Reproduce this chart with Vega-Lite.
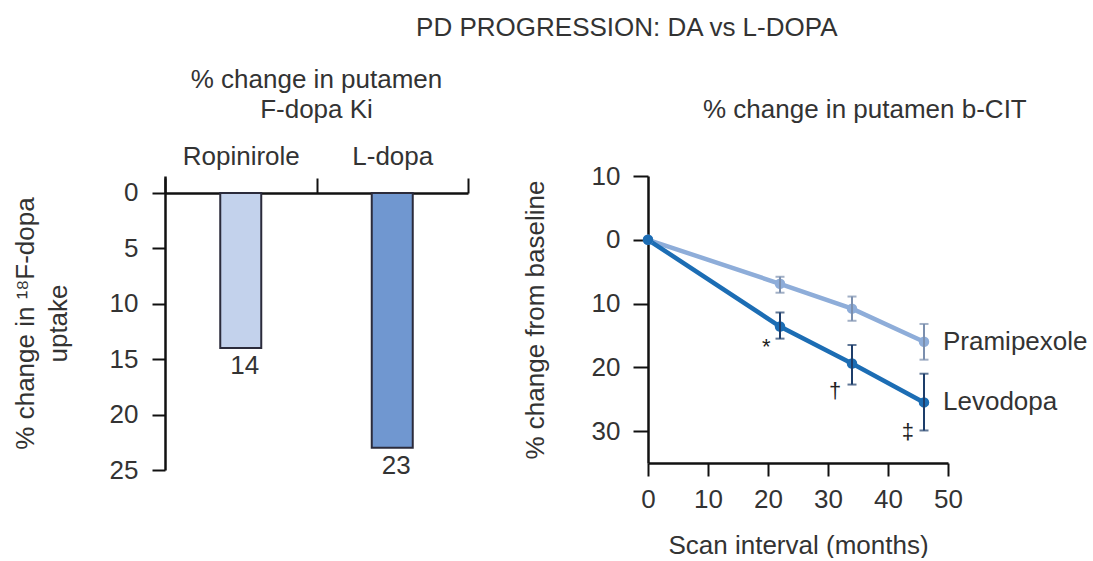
{
  "$schema": "https://vega.github.io/schema/vega-lite/v6.json",
  "background": "white",
  "padding": {"left": 12, "top": 15, "right": 5, "bottom": 0},
  "title": {"text": "PD PROGRESSION: DA vs L-DOPA", "anchor": "middle", "dx": 77, "offset": 26, "fontSize": 26, "fontWeight": "normal", "font": "Liberation Sans", "color": "#333333"},
  "config": {
    "font": "Liberation Sans",
    "view": {"stroke": null},
    "axis": {
      "grid": false,
      "labelFont": "Liberation Sans",
      "titleFont": "Liberation Sans",
      "labelFontSize": 26,
      "titleFontSize": 26,
      "titleFontWeight": "normal",
      "labelColor": "#333333",
      "titleColor": "#333333",
      "domainColor": "#111111",
      "tickColor": "#111111",
      "domainWidth": 2.5,
      "tickWidth": 2,
      "labelFlush": false
    },
    "title": {"font": "Liberation Sans", "fontSize": 26, "fontWeight": "normal", "color": "#333333"}
  },
  "bounds": "flush",
  "spacing": 180,
  "hconcat": [
    {
      "width": 303,
      "height": 294,
      "title": {"text": ["% change in putamen", "F-dopa Ki"], "anchor": "middle", "offset": 20, "lineHeight": 30},
      "data": {"values": [
        {"drug": "Ropinirole", "change": 14},
        {"drug": "L-dopa", "change": 23}
      ]},
      "encoding": {
        "x": {"field": "drug", "type": "nominal", "sort": null,
          "scale": {"paddingInner": 0, "paddingOuter": 0},
          "axis": {"orient": "top", "title": null, "labelAngle": 0, "tickBand": "extent", "tickSize": 15, "offset": -17, "labelPadding": 9}},
        "y": {"field": "change", "type": "quantitative",
          "scale": {"domain": [-1.534, 25], "reverse": true, "nice": false, "zero": false},
          "axis": {"values": [0, 5, 10, 15, 20, 25], "title": ["% change in ¹⁸F-dopa", "uptake"], "tickSize": 13, "labelPadding": 14, "titlePadding": 38, "titleLineHeight": 33}}
      },
      "layer": [
        {"mark": {"type": "bar", "size": 41, "stroke": "#2b2b3b", "strokeWidth": 2},
         "encoding": {
           "y2": {"datum": 0},
           "color": {"field": "drug", "type": "nominal", "scale": {"domain": ["Ropinirole", "L-dopa"], "range": ["#c3d2ec", "#7097d0"]}, "legend": null}}},
        {"mark": {"type": "text", "dy": 18, "dx": 4, "baseline": "middle", "fontSize": 26, "color": "#333333"},
         "encoding": {"text": {"field": "change", "type": "quantitative"}}}
      ]
    },
    {
      "width": 300,
      "height": 287,
      "title": {"text": "% change in putamen b-CIT", "anchor": "start", "frame": "group", "dx": 55, "offset": 40},
      "data": {"values": [
        {"drug": "Pramipexole", "month": 0, "change": 0, "low": 0, "high": 0},
        {"drug": "Pramipexole", "month": 22, "change": -6.9, "low": -5.8, "high": -8.3},
        {"drug": "Pramipexole", "month": 34, "change": -10.8, "low": -8.9, "high": -12.7},
        {"drug": "Pramipexole", "month": 46, "change": -16.0, "low": -13.2, "high": -18.8},
        {"drug": "Levodopa", "month": 0, "change": 0, "low": 0, "high": 0},
        {"drug": "Levodopa", "month": 22, "change": -13.6, "low": -11.4, "high": -15.5},
        {"drug": "Levodopa", "month": 34, "change": -19.4, "low": -16.5, "high": -22.7},
        {"drug": "Levodopa", "month": 46, "change": -25.5, "low": -21.0, "high": -29.9}
      ]},
      "encoding": {
        "x": {"field": "month", "type": "quantitative",
          "scale": {"domain": [0, 50], "nice": false},
          "axis": {"values": [0, 10, 20, 30, 40, 50], "title": "Scan interval (months)", "tickSize": 13, "labelPadding": 10, "titlePadding": 20}},
        "y": {"field": "change", "type": "quantitative",
          "scale": {"domain": [-35, 10], "nice": false},
          "axis": {"values": [10, 0, -10, -20, -30], "labelExpr": "format(abs(datum.value), 'd')", "title": "% change from baseline", "tickSize": 15, "labelPadding": 13, "titlePadding": 43}}
      },
      "layer": [
        {"mark": {"type": "line", "strokeWidth": 4.5, "point": {"size": 110, "filled": true}},
         "encoding": {"color": {"field": "drug", "type": "nominal", "scale": {"domain": ["Pramipexole", "Levodopa"], "range": ["#8eadd9", "#1c6db4"]}, "legend": null}}},
        {"transform": [{"filter": "datum.month > 0"}],
         "mark": {"type": "errorbar", "ticks": {"size": 9, "thickness": 2}, "rule": {"strokeWidth": 2}},
         "encoding": {
           "y": {"field": "low", "type": "quantitative"},
           "y2": {"field": "high"},
           "color": {"field": "drug", "type": "nominal", "scale": {"domain": ["Pramipexole", "Levodopa"], "range": ["#7b8fae", "#1d3d6a"]}, "legend": null}}},
        {"transform": [{"filter": "datum.month == 46"}],
         "mark": {"type": "text", "align": "left", "baseline": "middle", "dx": 19, "fontSize": 26, "color": "#333333"},
         "encoding": {"text": {"field": "drug", "type": "nominal"}}},
        {"data": {"values": [
           {"month": 19.7, "change": -16.8, "sig": "*"},
           {"month": 31.2, "change": -23.7, "sig": "†"},
           {"month": 43.3, "change": -30.2, "sig": "‡"}
         ]},
         "mark": {"type": "text", "baseline": "middle", "align": "center", "fontSize": 22, "color": "#222222"},
         "encoding": {"text": {"field": "sig", "type": "nominal"}}}
      ],
      "resolve": {"scale": {"color": "independent"}}
    }
  ]
}
